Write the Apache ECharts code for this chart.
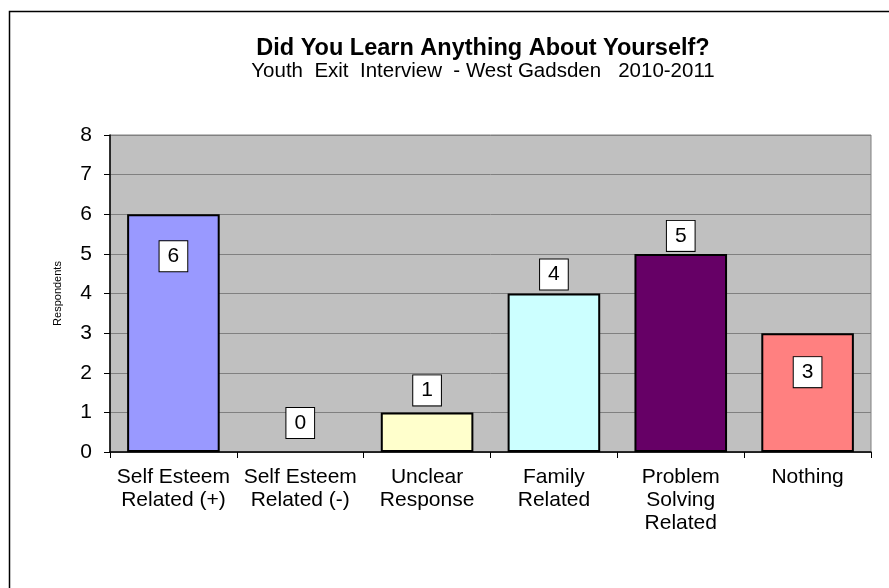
<!DOCTYPE html>
<html>
<head>
<meta charset="utf-8">
<style>
  html, body { margin: 0; padding: 0; background: #fff; }
  #chart { width: 889px; height: 588px; }
</style>
<script src="https://cdn.jsdelivr.net/npm/echarts@6/dist/echarts.min.js"></script>
</head>
<body>
<div id="chart"></div>
<script>
// Survey responses
const categories = [
  'Self Esteem\nRelated (+)',
  'Self Esteem\nRelated (-)',
  'Unclear\nResponse',
  'Family\nRelated',
  'Problem\nSolving\nRelated',
  'Nothing'
];
const respondents = [6, 0, 1, 4, 5, 3];
const yTicks = [0, 1, 2, 3, 4, 5, 6, 7, 8];

// Bar fills, one per category
const barColors = ['#9999FF', '#9999FF', '#FFFFCC', '#CCFFFF', '#660066', '#FF8080'];
// Where each value box sits relative to its bar
const labelPlacement = [
  { position: 'insideTop', distance: 27 },
  { position: 'top', distance: 14 },
  { position: 'top', distance: 7 },
  { position: 'top', distance: 4 },
  { position: 'top', distance: 3 },
  { position: 'insideTop', distance: 24 }
];

const font = 'Arial, "Liberation Sans", sans-serif';
const chart = echarts.init(document.getElementById('chart'), null, { renderer: 'canvas' });

chart.setOption({
  backgroundColor: '#ffffff',
  animation: false,
  title: {
    text: 'Did You Learn Anything About Yourself?',
    subtext: 'Youth  Exit  Interview  - West Gadsden   2010-2011',
    left: 478,
    textAlign: 'center',
    top: 31,
    itemGap: 0,
    textStyle: { fontFamily: font, fontSize: 23.5, lineHeight: 25, fontWeight: 'bold', color: '#000' },
    subtextStyle: { fontFamily: font, fontSize: 20.5, lineHeight: 20, color: '#000' }
  },
  grid: {
    left: 110, top: 135, right: 18, bottom: 136,
    show: true,
    backgroundColor: '#C0C0C0',
    borderColor: '#808080',
    borderWidth: 1
  },
  xAxis: {
    type: 'category',
    data: categories,
    axisLine: { lineStyle: { color: '#000', width: 1.5 } },
    axisTick: { show: true, length: 6, lineStyle: { color: '#000' } },
    axisLabel: {
      fontFamily: font, fontSize: 21, color: '#000',
      lineHeight: 23, margin: 14, interval: 0
    }
  },
  yAxis: {
    type: 'value',
    min: 0, max: 8, interval: 1,
    name: 'Respondents',
    nameLocation: 'middle',
    nameGap: 47,
    nameRotate: 90,
    nameTextStyle: { fontFamily: font, fontSize: 11, color: '#000' },
    axisLine: { show: true, lineStyle: { color: '#000', width: 1.5 } },
    axisTick: { show: true, length: 6, lineStyle: { color: '#000' } },
    axisLabel: {
      fontFamily: font, fontSize: 21, color: '#000', margin: 18,
      formatter: v => (yTicks.includes(v) ? String(v) : '')
    },
    splitLine: { show: true, lineStyle: { color: '#808080', width: 1 } }
  },
  series: [{
    type: 'bar',
    barCategoryGap: '27%',
    data: respondents.map((v, i) => ({
      value: v,
      itemStyle: {
        color: barColors[i],
        borderColor: '#000',
        borderWidth: v === 0 ? 0 : 2
      },
      label: labelPlacement[i]
    })),
    label: {
      show: true,
      fontFamily: font,
      fontSize: 21,
      lineHeight: 22,
      color: '#000',
      backgroundColor: '#fff',
      borderColor: '#000',
      borderWidth: 1,
      padding: [4, 8, 4, 8]
    }
  }],
  graphic: [{
    type: 'rect',
    shape: { x: 9.5, y: 11.5, width: 900, height: 600 },
    style: { fill: null, stroke: '#000', lineWidth: 1.5 },
    silent: true,
    z: 100
  }]
});
</script>
</body>
</html>
